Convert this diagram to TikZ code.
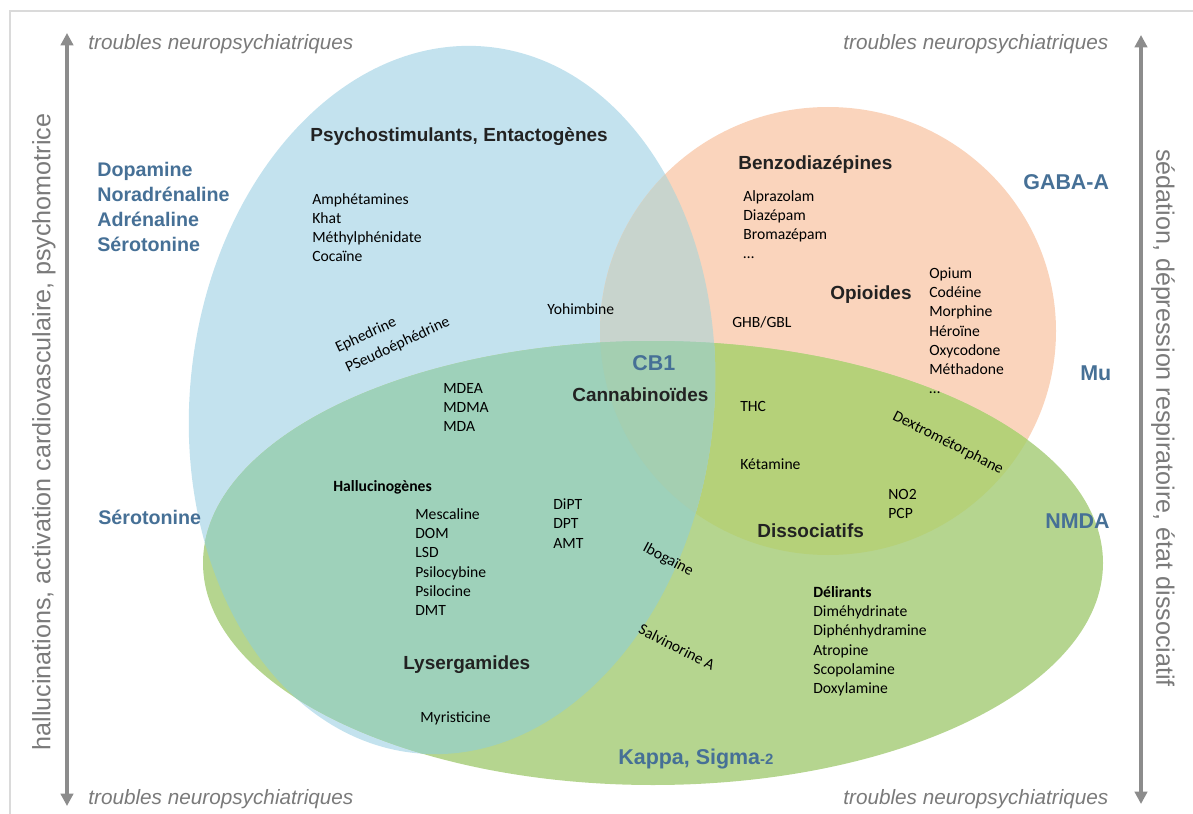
\documentclass[tikz,border=0pt]{standalone}
\usepackage{fontspec}
\setmainfont{Carlito}
\newfontfamily\arialfont{Liberation Sans}
\usepackage{xcolor}
\usetikzlibrary{arrows.meta}

\definecolor{colB}{RGB}{195,226,238}
\definecolor{colO}{RGB}{250,212,188}
\definecolor{colG}{RGB}{181,213,143}
\definecolor{colBO}{RGB}{200,212,205}
\definecolor{colBG}{RGB}{158,209,186}
\definecolor{colOG}{RGB}{181,209,121}
\definecolor{colBOG}{RGB}{164,207,177}
\definecolor{recblue}{RGB}{70,112,150}
\definecolor{headcol}{RGB}{34,34,34}
\definecolor{axgray}{RGB}{140,140,140}
\definecolor{txtgray}{RGB}{122,122,122}
\definecolor{framegray}{RGB}{218,218,218}

\begin{document}
\begin{tikzpicture}[x=0.02cm, y=0.02cm,
    drug/.style={anchor=base west, inner sep=0pt, font=\fontsize{8.9}{10.8}\selectfont},
    drugb/.style={drug, font=\fontsize{8.9}{10.8}\selectfont\bfseries},
    family/.style={anchor=base west, inner sep=0pt, text=headcol, font=\arialfont\bfseries\fontsize{10.8}{13}\selectfont},
    receptor/.style={anchor=base west, inner sep=0pt, text=recblue, font=\arialfont\bfseries\fontsize{12.2}{14}\selectfont},
    transmit/.style={receptor, font=\arialfont\bfseries\fontsize{11.2}{13}\selectfont},
    corner/.style={anchor=base west, inner sep=0pt, text=txtgray, font=\arialfont\itshape\fontsize{11.8}{14}\selectfont},
    axislabel/.style={inner sep=0pt, text=txtgray, font=\arialfont\fontsize{14.3}{17}\selectfont},
    axis/.style={draw=axgray, line width=2.2pt, {Triangle[width=7pt,length=7pt]}-{Triangle[width=7pt,length=7pt]}},
    blueset/.style={rotate around={-6:(452,-400)}}]
    \useasboundingbox (0,0) rectangle (1193,-814);
    % Frame
    \draw[framegray, line width=1.6pt] (10,-830) -- (10,-11) -- (1210,-11);

    % Draw the three sets
    \fill[colB, blueset] (452,-400) ellipse [x radius=262, y radius=355];
    \fill[colO] (828,-331) ellipse [x radius=228, y radius=224];
    \fill[colG] (653,-563) ellipse [x radius=450, y radius=222];
    \begin{scope}
        \clip (828,-331) ellipse [x radius=228, y radius=224];
        \fill[colOG] (653,-563) ellipse [x radius=450, y radius=222];
    \end{scope}
    \begin{scope}
        \clip[blueset] (452,-400) ellipse [x radius=262, y radius=355];
        \fill[colBO] (828,-331) ellipse [x radius=228, y radius=224];
        \fill[colBG] (653,-563) ellipse [x radius=450, y radius=222];
        \clip (828,-331) ellipse [x radius=228, y radius=224];
        \fill[colBOG] (653,-563) ellipse [x radius=450, y radius=222];
    \end{scope}

    % Axes
    \coordinate (ltop) at (67,-33);
    \coordinate (lbot) at (67,-806);
    \coordinate (rtop) at (1141,-35);
    \coordinate (rbot) at (1141,-804);
    \draw[axis] (lbot) -- (ltop);
    \draw[axis] (rtop) -- (rbot);
    \node[axislabel, rotate=90] (leftaxis) at (44,-432) {hallucinations, activation cardiovasculaire, psychomotrice};
    \node[axislabel, rotate=-90] (rightaxis) at (1163,-418) {sédation, dépression respiratoire, état dissociatif};
    \foreach \x/\y [count=\i] in {88/50, 843/50, 88/804, 843/804}
        \node[corner] (trouble-\i) at (\x,-\y) {troubles neuropsychiatriques};

    % Receptors
    \foreach \r [count=\i] in {Dopamine, Noradrénaline, Adrénaline, Sérotonine}
        \node[transmit] (transm-\i) at (97,-152-25*\i) {\r};
    \node[transmit] (sero) at (98,-524) {Sérotonine};
    \node[receptor] (gaba) at (1023,-190) {GABA-A};
    \node[receptor] (mu) at (1080,-380) {Mu};
    \node[receptor] (nmda) at (1045,-528) {NMDA};
    \node[receptor] (cbone) at (632,-370) {CB1};
    \node[receptor] (kappa) at (618,-764) {Kappa, Sigma{\fontsize{8.5}{10}\selectfont -2}};

    % Families
    \node[family] (psychost) at (310,-141.5) {Psychostimulants, Entactogènes};
    \node[family] (benzo) at (738,-170) {Benzodiazépines};
    \node[family] (opio) at (830,-299) {Opioides};
    \node[family] (canna) at (572,-401) {Cannabinoïdes};
    \node[family] (dissoc) at (757,-537) {Dissociatifs};
    \node[family] (lyserg) at (403,-669) {Lysergamides};
    \node[drugb] (halluc) at (333,-491.5) {Hallucinogènes};
    \node[drugb] (delir) at (813,-597.5) {Délirants};

    % Substances
    \foreach \d [count=\i] in {Amphétamines, Khat, Méthylphénidate, Cocaïne}
        \node[drug] (stim-\i) at (312,-185.5-19*\i) {\d};
    \foreach \d [count=\i] in {Alprazolam, Diazépam, Bromazépam, …}
        \node[drug] (benz-\i) at (743,-182.5-19*\i) {\d};
    \foreach \d [count=\i] in {Opium, Codéine, Morphine, Héroïne, Oxycodone, Méthadone, …}
        \node[drug] (opi-\i) at (929,-259.3-19.2*\i) {\d};
    \foreach \d [count=\i] in {MDEA, MDMA, MDA}
        \node[drug] (enta-\i) at (443,-374.5-19*\i) {\d};
    \foreach \d [count=\i] in {Mescaline, DOM, LSD, Psilocybine, Psilocine, DMT}
        \node[drug] (hal-\i) at (415,-500.3-19.2*\i) {\d};
    \foreach \d [count=\i] in {DiPT, DPT, AMT}
        \node[drug] (trypt-\i) at (553,-490.2-19.3*\i) {\d};
    \foreach \d [count=\i] in {NO2, PCP}
        \node[drug] (diss-\i) at (888,-480.5-19*\i) {\d};
    \foreach \d [count=\i] in {Diméhydrinate, Diphénhydramine, Atropine, Scopolamine, Doxylamine}
        \node[drug] (del-\i) at (813,-597.5-19.2*\i) {\d};
    \node[drug] (yohim) at (547,-314.5) {Yohimbine};
    \node[drug] (ghb) at (732,-327.5) {GHB/GBL};
    \node[drug] (thc) at (740,-411.5) {THC};
    \node[drug] (keta) at (740,-469.5) {Kétamine};
    \node[drug] (myris) at (420,-722) {Myristicine};
    \node[drug, rotate=25] (ephed) at (338,-353) {Ephedrine};
    \node[drug, rotate=25] (pseudo) at (348,-373) {PSeudoéphédrine};
    \node[drug, anchor=center, rotate=-27] (dextro) at (948,-443) {Dextrométorphane};
    \node[drug, anchor=center, rotate=-28] (iboga) at (668,-560) {Ibogaïne};
    \node[drug, anchor=center, rotate=-27] (salvi) at (677,-647) {Salvinorine A};
\end{tikzpicture}
\end{document}
